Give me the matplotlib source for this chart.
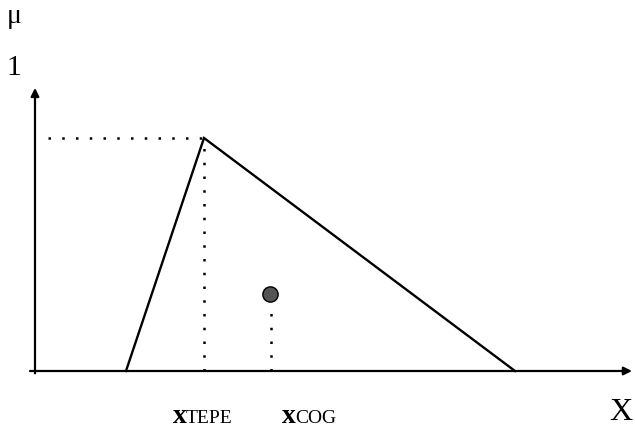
import numpy as np
import matplotlib
matplotlib.use("Agg")
import matplotlib.pyplot as plt

# triangular membership function (x positions, membership values)
tri_x = [0.91, 1.69, 4.80]
tri_mu = [0.0, 1.0, 0.0]
x_tepe = 1.69
x_cog = 2.36
mu_cog = 0.32

plt.rcParams['font.family'] = ['Liberation Serif', 'DejaVu Serif']

fig = plt.figure(figsize=(6.35, 4.32), dpi=100)
ax = fig.add_axes([0, 0, 1, 1])
ax.set_xlim(-0.35, 6.0)
ax.set_ylim(-61 / 233, 371 / 233)
ax.axis('off')

# axes with arrows
ax.annotate('', xy=(0, 1.215), xytext=(0, -0.01),
            arrowprops=dict(arrowstyle='-|>', color='black', lw=1.6,
                            mutation_scale=12, shrinkA=0, shrinkB=0))
ax.annotate('', xy=(5.97, 0), xytext=(-0.05, 0),
            arrowprops=dict(arrowstyle='-|>', color='black', lw=1.6,
                            mutation_scale=12, shrinkA=0, shrinkB=0))

# membership function
ax.plot(tri_x, tri_mu, color='black', lw=1.7, solid_joinstyle='miter')

# dotted guides
dots = (0, (1, 4.5))
ax.plot([0.13, x_tepe], [1.0, 1.0], color='black', lw=1.8, linestyle=dots)
ax.plot([x_tepe, x_tepe], [0.0, 0.97], color='black', lw=1.8, linestyle=dots)
ax.plot([x_cog, x_cog], [0.0, mu_cog - 0.05], color='black', lw=1.8, linestyle=dots)

# centre of gravity point
ax.plot([x_cog - 0.01], [mu_cog + 0.01], marker='o', markersize=11,
        color='#555555', markeredgecolor='black', markeredgewidth=1.0)

# labels
ax.text(-0.21, 1.52, 'μ', fontsize=20, ha='center', va='center')
ax.text(-0.21, 1.30, '1', fontsize=21, ha='center', va='center')

ax.text(1.38, -0.223, 'x', fontsize=20, fontweight='bold', ha='left', va='baseline')
ax.text(1.51, -0.223, 'TEPE', fontsize=14, ha='left', va='baseline')
ax.text(2.47, -0.223, 'x', fontsize=20, fontweight='bold', ha='left', va='baseline')
ax.text(2.60, -0.223, 'COG', fontsize=14, ha='left', va='baseline')
ax.text(5.86, -0.21, 'X', fontsize=23, ha='center', va='baseline')

fig.savefig('out.png', dpi=100)
